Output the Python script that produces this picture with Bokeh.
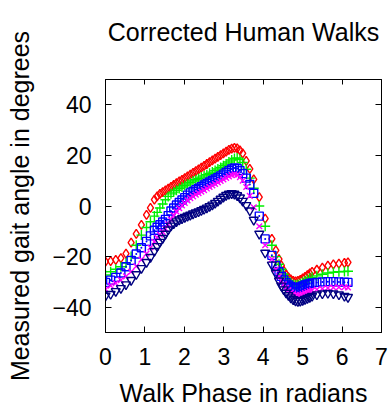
from bokeh.plotting import figure
from bokeh.models import Range1d, FixedTicker, LinearAxis
from bokeh.embed import file_html
from bokeh.resources import INLINE

# ---------------- data ----------------
phase = [0.00, 0.13, 0.26, 0.39, 0.52, 0.65, 0.78, 0.91, 1.04, 1.14,
         1.24, 1.31, 1.38, 1.45, 1.52, 1.59, 1.66, 1.73, 1.80, 1.87, 1.94,
         2.01, 2.08, 2.15, 2.22, 2.29, 2.36, 2.43, 2.50, 2.57, 2.64, 2.71,
         2.78, 2.85, 2.92, 2.99, 3.06, 3.13, 3.20, 3.27, 3.34, 3.41, 3.48,
         3.57, 3.66, 3.76, 3.90, 4.05, 4.22, 4.32,
         4.40, 4.46, 4.52, 4.58, 4.64, 4.70, 4.76, 4.82, 4.88, 4.94, 5.00,
         5.06, 5.12, 5.18, 5.24,
         5.36, 5.50, 5.64, 5.78, 5.92, 6.06, 6.15]

walk_red = [-22.0, -21.8, -21.3, -20.6, -18.8, -14.5, -11.0, -7.5, -3.5, -0.7,
            2.5, 3.8, 4.8, 5.5, 6.2, 6.9, 7.6, 8.3, 9.0, 9.7, 10.3,
            11.0, 11.7, 12.4, 13.1, 13.8, 14.5, 15.2, 15.9, 16.6, 17.3, 18.0,
            18.7, 19.4, 20.1, 20.8, 21.5, 22.2, 22.7, 23.0, 22.8, 22.0, 20.8,
            17.8, 14.7, 10.5, 3.5, -5.0, -13.0, -17.5,
            -21.0, -23.5, -25.5, -27.0, -28.2, -29.0, -29.6, -29.8, -29.6, -29.2, -28.6,
            -28.0, -27.3, -26.6, -26.0,
            -25.2, -24.4, -23.6, -23.1, -22.8, -22.5, -22.3]

walk_green = [-27.3, -26.0, -25.0, -24.0, -22.5, -20.0, -15.5, -11.5, -8.5, -6.2,
              -4.0, -2.5, -0.8, 0.8, 2.5, 3.8, 4.8, 5.5, 6.2, 6.9, 7.5,
              8.1, 8.7, 9.3, 9.9, 10.4, 10.9, 11.4, 11.9, 12.4, 12.9, 13.4,
              14.0, 14.6, 15.2, 15.9, 16.6, 17.4, 18.2, 18.8, 19.0, 18.4, 17.2,
              14.5, 11.0, 7.0, 0.0, -8.0, -15.5, -20.0,
              -23.0, -25.0, -27.0, -28.5, -29.6, -30.4, -31.0, -31.2, -31.0, -30.6, -30.1,
              -29.6, -29.1, -28.6, -28.2,
              -27.6, -27.0, -26.5, -26.2, -26.0, -25.9, -25.8]

walk_blue = [-30.2, -29.3, -28.2, -26.5, -24.0, -21.5, -19.0, -16.5, -14.0, -11.8,
             -9.6, -8.4, -7.4, -6.3, -5.3, -3.8, -2.0, -0.8, 0.4, 1.4, 2.4,
             3.3, 4.3, 5.2, 5.8, 6.4, 7.0, 7.6, 8.3, 8.9, 9.5, 10.1,
             10.7, 11.3, 11.9, 12.6, 13.3, 14.0, 14.6, 15.0, 14.8, 14.0, 12.8,
             11.0, 8.5, 5.0, -4.0, -13.0, -19.5, -23.5,
             -26.0, -27.8, -29.2, -30.3, -31.2, -31.8, -32.2, -32.4, -32.3, -32.0, -31.6,
             -31.2, -30.9, -30.6, -30.4,
             -30.2, -30.0, -29.9, -29.9, -30.0, -30.1, -30.2]

walk_magenta = [-32.9, -31.5, -30.5, -29.3, -27.8, -26.0, -23.8, -21.2, -18.8, -16.4,
                -14.2, -12.5, -11.3, -10.2, -9.0, -7.2, -5.4, -3.7, -2.2, -0.9, 0.2,
                1.2, 2.2, 3.1, 3.8, 4.5, 5.1, 5.7, 6.3, 6.9, 7.5, 8.1,
                8.7, 9.3, 9.9, 10.5, 11.1, 11.7, 12.2, 12.5, 12.3, 11.4, 10.0,
                7.5, 4.0, -0.5, -8.0, -15.5, -21.0, -25.0,
                -27.8, -29.6, -31.0, -32.3, -33.3, -34.2, -34.8, -35.2, -35.3, -35.1, -34.8,
                -34.4, -34.0, -33.6, -33.3,
                -33.0, -32.7, -32.4, -32.2, -32.1, -32.1, -32.2]

walk_navy = [-35.5, -34.8, -33.7, -32.5, -31.0, -29.3, -27.0, -24.6, -22.2, -20.2,
             -17.8, -15.9, -14.2, -12.7, -11.0, -9.3, -7.8, -6.9, -6.1, -5.4, -4.9,
             -4.4, -3.9, -3.5, -3.0, -2.6, -2.2, -1.7, -1.2, -0.7, -0.1, 0.5,
             1.2, 2.0, 2.8, 3.6, 4.3, 4.8, 5.0, 4.8, 4.2, 3.3, 2.0,
             0.3, -1.8, -5.5, -11.0, -18.5, -23.2, -26.5,
             -29.5, -31.5, -33.0, -34.3, -35.3, -36.2, -36.9, -37.4, -37.6, -37.5, -37.2,
             -36.8, -36.4, -36.0, -35.6,
             -35.0, -34.6, -34.4, -34.6, -35.0, -35.6, -36.0]

x_ticks = [0, 1, 2, 3, 4, 5, 6, 7]
y_ticks = [-40, -20, 0, 20, 40]
title_text = "Corrected Human Walks"

FONT = "Liberation Sans"

p = figure(width=388, height=412, output_backend="svg", toolbar_location=None,
           x_range=Range1d(0, 7), y_range=Range1d(-50, 50),
           min_border_left=105, min_border_right=7, min_border_top=79,
           min_border_bottom=80)
p.background_fill_color = "white"
p.border_fill_color = "white"
p.outline_line_color = "black"
p.outline_line_width = 1
p.grid.visible = False
p.title.text = ""

xa = p.xaxis[0]
ya = p.yaxis[0]
xa.ticker = FixedTicker(ticks=x_ticks)
ya.ticker = FixedTicker(ticks=y_ticks)
xa.axis_label = "Walk Phase in radians"
ya.axis_label = "Measured gait angle in degrees"
for ax in (xa, ya):
    ax.major_tick_in = 6
    ax.major_tick_out = 0
    ax.minor_tick_in = 0
    ax.minor_tick_out = 0
    ax.axis_line_color = "black"
    ax.major_tick_line_color = "black"
    ax.major_label_text_font = FONT
    ax.major_label_text_font_size = "23px"
    ax.major_label_text_color = "black"
    ax.axis_label_text_font = FONT
    ax.axis_label_text_font_size = "25px"
    ax.axis_label_text_font_style = "normal"
    ax.axis_label_text_color = "black"
xa.major_label_standoff = 15
xa.axis_label_standoff = 11
ya.major_label_standoff = 14
ya.axis_label_standoff = 15

# mirrored ticks on top (carrying the chart title) and right
top = LinearAxis(ticker=FixedTicker(ticks=x_ticks),
                 major_label_overrides={t: "" for t in x_ticks},
                 major_label_text_font_size="1px",
                 major_label_standoff=0, major_tick_in=5, major_tick_out=0,
                 minor_tick_in=0, minor_tick_out=0,
                 axis_label=title_text, axis_label_standoff=34,
                 axis_label_text_font=FONT, axis_label_text_font_size="25px",
                 axis_label_text_font_style="normal", axis_label_text_color="black")
right = LinearAxis(ticker=FixedTicker(ticks=y_ticks),
                   major_label_overrides={t: "" for t in y_ticks},
                   major_label_text_font_size="1px",
                   major_label_standoff=0, major_tick_in=6, major_tick_out=0,
                   minor_tick_in=0, minor_tick_out=0)
p.add_layout(top, "above")
p.add_layout(right, "right")

series = [
    (walk_red, "diamond", "#ff0000", 9),
    (walk_green, "cross", "#00ee00", 10),
    (walk_blue, "square_dot", "#0000ff", 8),
    (walk_magenta, "x", "#ff00ff", 8),
    (walk_navy, "inverted_triangle", "#000080", 9),
]
for ys, mk, col, sz in series:
    p.scatter(phase, ys, marker=mk, size=sz, line_color=col, fill_color=None,
              line_width=1.4)

open("out.html", "w").write(file_html(p, INLINE))
